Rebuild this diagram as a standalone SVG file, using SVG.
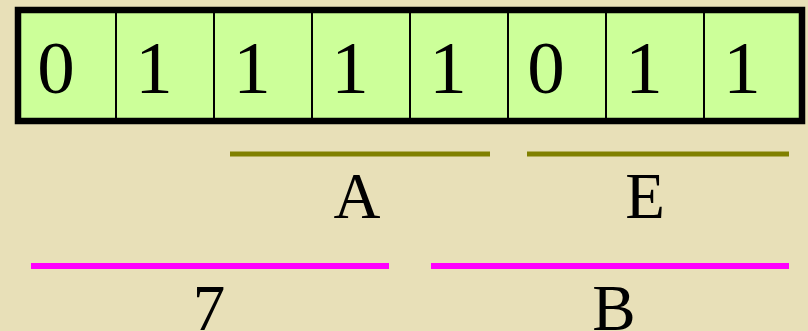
<svg xmlns="http://www.w3.org/2000/svg" width="808" height="331" viewBox="0 0 808 331">
<style>
.cell{fill:#CCFF99;stroke:#000;stroke-width:2}
.digit{font-family:"Liberation Serif","Times New Roman",serif;font-size:75px;fill:#000;text-anchor:middle}
.lbl{font-family:"Liberation Serif","Times New Roman",serif;font-size:65px;fill:#000;text-anchor:middle}
.olive{stroke:#808000;stroke-width:5}
.mag{stroke:#FF00FF;stroke-width:6}
</style>
<rect width="808" height="331" fill="#E8E0B8"/>
<g id="register">
<g id="cell0"><rect class="cell" x="18" y="10" width="98" height="111"/><text class="digit" x="56" y="93">0</text></g>
<g id="cell1"><rect class="cell" x="116" y="10" width="98" height="111"/><text class="digit" x="154" y="93">1</text></g>
<g id="cell2"><rect class="cell" x="214" y="10" width="98" height="111"/><text class="digit" x="252" y="93">1</text></g>
<g id="cell3"><rect class="cell" x="312" y="10" width="98" height="111"/><text class="digit" x="350" y="93">1</text></g>
<g id="cell4"><rect class="cell" x="410" y="10" width="98" height="111"/><text class="digit" x="448" y="93">1</text></g>
<g id="cell5"><rect class="cell" x="508" y="10" width="98" height="111"/><text class="digit" x="546" y="93">0</text></g>
<g id="cell6"><rect class="cell" x="606" y="10" width="98" height="111"/><text class="digit" x="644" y="93">1</text></g>
<g id="cell7"><rect class="cell" x="704" y="10" width="98" height="111"/><text class="digit" x="742" y="93">1</text></g>
<rect x="18" y="10" width="784" height="111" fill="none" stroke="#000" stroke-width="6.5"/>
</g>
<g id="connectors">
<line class="olive" x1="230" y1="154" x2="490" y2="154"/>
<line class="olive" x1="527" y1="154" x2="789" y2="154"/>
<line class="mag" x1="31" y1="266" x2="389" y2="266"/>
<line class="mag" x1="431" y1="266" x2="789" y2="266"/>
</g>
<g id="labelA"><text class="lbl" x="357" y="218">A</text></g>
<g id="labelE"><text class="lbl" x="645" y="218">E</text></g>
<g id="label7"><text class="lbl" x="209" y="330">7</text></g>
<g id="labelB"><text class="lbl" x="614" y="330">B</text></g>
</svg>
